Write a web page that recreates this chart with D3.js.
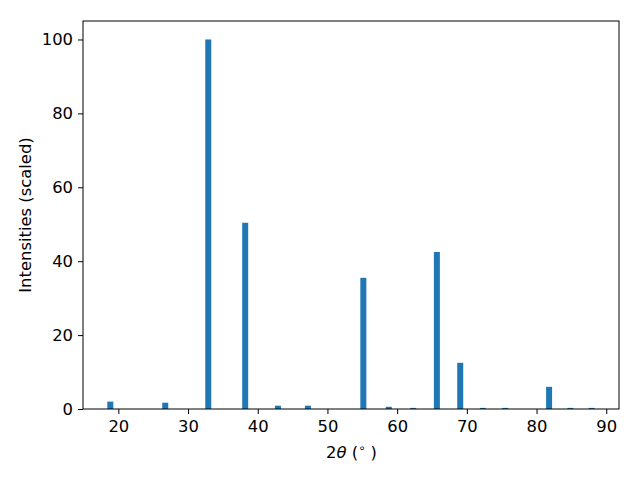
<!DOCTYPE html>
<html><head><meta charset="utf-8">
<script src="https://cdn.jsdelivr.net/npm/d3@7"></script>
<style>body{margin:0;background:#fff}svg{display:block}text{font-family:"DejaVu Sans",sans-serif}</style>
</head><body>
<script>
const twoTheta = [18.85, 26.73, 32.9, 38.2, 42.9, 47.2, 55.15, 58.8, 62.3, 65.7, 69.05, 72.3, 75.5, 81.8, 84.85, 87.9];
const intensity = [2.0, 1.7, 100, 50.4, 0.9, 0.9, 35.5, 0.6, 0.3, 42.5, 12.5, 0.3, 0.3, 6.0, 0.3, 0.3];
const xTicks = [20, 30, 40, 50, 60, 70, 80, 90];
const yTicks = [0, 20, 40, 60, 80, 100];
const barWidth = 0.86;

const W = 640, H = 480;
const m = {left: 83, right: 619, top: 21, bottom: 409};
const svg = d3.select("body").append("svg").attr("width", W).attr("height", H);
const x = d3.scaleLinear().domain([14.93, 91.83]).range([m.left, m.right]);
const y = d3.scaleLinear().domain([0, 105]).range([m.bottom, m.top]);

svg.append("g").selectAll("rect").data(twoTheta).join("rect")
  .attr("x", (d) => x(d - barWidth / 2))
  .attr("width", x(barWidth) - x(0))
  .attr("y", (d, i) => y(intensity[i]))
  .attr("height", (d, i) => y(0) - y(intensity[i]))
  .attr("fill", "#1f77b4");

const fs = 16.4;
const xa = svg.append("g").attr("transform", `translate(0,${m.bottom})`)
  .call(d3.axisBottom(x).tickValues(xTicks).tickSize(5).tickPadding(6).tickFormat(d3.format("d")));
const ya = svg.append("g").attr("transform", `translate(${m.left},0)`)
  .call(d3.axisLeft(y).tickValues(yTicks).tickSize(5).tickPadding(5).tickFormat(d3.format("d")));
[xa, ya].forEach(a => {
  a.select(".domain").remove();
  a.selectAll("text").attr("font-size", fs).attr("font-family", "DejaVu Sans").attr("fill", "#000");
  a.selectAll("line").attr("stroke", "#000").attr("stroke-width", 1);
});

svg.append("rect").attr("x", m.left).attr("y", m.top)
  .attr("width", m.right - m.left).attr("height", m.bottom - m.top)
  .attr("fill", "none").attr("stroke", "#000").attr("stroke-width", 1);

const xl = svg.append("text").attr("x", 351.5).attr("y", 458)
  .attr("text-anchor", "middle").attr("font-size", fs);
xl.append("tspan").text("2");
xl.append("tspan").attr("font-style", "italic").text("θ");
xl.append("tspan").text(" (");
xl.append("tspan").attr("font-size", 11.5).attr("dy", -6).text("∘");
xl.append("tspan").attr("dy", 6).text(" )");

svg.append("text").attr("transform", `translate(30.5,${(m.top + m.bottom) / 2}) rotate(-90)`)
  .attr("text-anchor", "middle").attr("font-size", fs).text("Intensities (scaled)");
</script>
</body></html>
